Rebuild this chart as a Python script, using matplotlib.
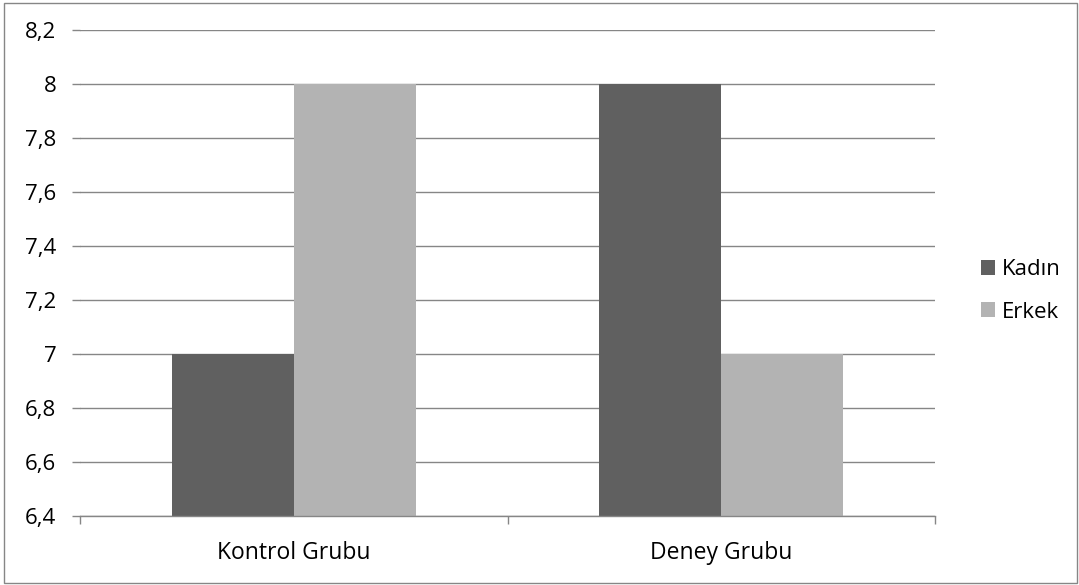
import matplotlib
matplotlib.use("Agg")
import matplotlib.pyplot as plt
from matplotlib.patches import Rectangle

plt.rcParams['font.family'] = ['Open Sans', 'DejaVu Sans']

gruplar = ["Kontrol Grubu", "Deney Grubu"]
kadin = [7, 8]
erkek = [8, 7]
y_ticks = [6.4, 6.6, 6.8, 7.0, 7.2, 7.4, 7.6, 7.8, 8.0, 8.2]

fig = plt.figure(figsize=(10.79, 5.85), dpi=100)
ax = fig.add_axes([80 / 1079, 1 - 516 / 585, 855 / 1079, 486 / 585])

x = list(range(len(gruplar)))
w = 0.285
ax.bar([i - w / 2 for i in x], kadin, width=w, color="#606060", label="Kadın", zorder=2)
ax.bar([i + w / 2 for i in x], erkek, width=w, color="#b3b3b3", label="Erkek", zorder=2)

ax.set_xlim(-0.5, 1.5)
ax.set_ylim(6.4, 8.2)
ax.set_yticks(y_ticks)
ax.set_yticklabels([("%g" % v).replace(".", ",") for v in y_ticks])
ax.set_xticks(x)
ax.set_xticklabels(gruplar)
ax.set_xticks([-0.5, 0.5, 1.5], minor=True)

ax.grid(axis="y", color="#868686", linewidth=1.0, zorder=0)
for s in ["top", "right", "left"]:
    ax.spines[s].set_visible(False)
ax.spines["bottom"].set_color("#868686")
ax.spines["bottom"].set_linewidth(1.0)
ax.spines["bottom"].set_zorder(3)

ax.tick_params(axis="y", length=6, color="#868686", width=1.0, pad=11, labelsize=16)
ax.tick_params(axis="x", which="major", length=0, pad=18, labelsize=16.5)
ax.tick_params(axis="x", which="minor", length=6, color="#868686", width=1.0)

ax.legend(loc="center left", bbox_to_anchor=(1.03, 0.463), frameon=False,
          fontsize=16, handlelength=0.65, handleheight=0.65, handletextpad=0.3,
          labelspacing=0.95)

# dış çerçeve
fig.patches.append(Rectangle((4 / 1079, 2 / 585), 1073 / 1079, 580 / 585,
                             transform=fig.transFigure, fill=False,
                             edgecolor="#868686", linewidth=1.0))

fig.savefig("out.png", dpi=100)
